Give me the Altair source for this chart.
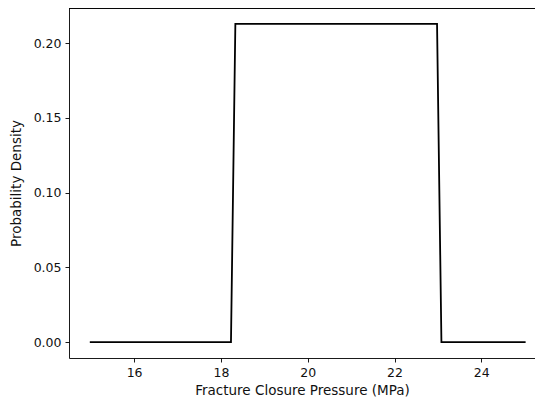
import altair as alt
import pandas as pd

# Key points of the uniform PDF as sampled (x in MPa, density)
pressure = [15.0, 18.232, 18.333, 22.98, 23.081, 25.0]
density = [0.0, 0.0, 0.2128, 0.2128, 0.0, 0.0]
x_ticks = [16, 18, 20, 22, 24]
y_ticks = [0.0, 0.05, 0.10, 0.15, 0.20]

df = pd.DataFrame({"x": pressure, "y": density, "order": list(range(len(pressure)))})

font = "DejaVu Sans"
axis_common = dict(
    labelFont=font, titleFont=font, labelFontSize=12.5, titleFontSize=13.5,
    titleFontWeight="normal", labelColor="#111", titleColor="#111",
    tickColor="black", domainColor="black", tickSize=4, tickWidth=0.9,
    domainWidth=0.9, grid=False, labelPadding=4,
)

W, H = 466, 350

line = alt.Chart(df).mark_line(color="black", strokeWidth=1.8, strokeCap="square").encode(
    x=alt.X("x:Q", scale=alt.Scale(domain=[14.5, 25.237], nice=False, zero=False),
            axis=alt.Axis(values=x_ticks, format="d", title="Fracture Closure Pressure (MPa)",
                          titlePadding=5, **axis_common)),
    y=alt.Y("y:Q", scale=alt.Scale(domain=[-0.0106, 0.2234], nice=False, zero=False),
            axis=alt.Axis(values=y_ticks, format=".2f", title="Probability Density",
                          titlePadding=10, **axis_common)),
    order="order:Q",
)

top_spine = alt.Chart(df).mark_rule(color="black", strokeWidth=0.9).encode(
    x=alt.value(0), x2=alt.value(W), y=alt.value(0)
)

chart = alt.layer(line, top_spine).properties(
    width=W, height=H,
    autosize=alt.AutoSizeParams(type="none"),
    padding={"left": 61, "top": 0, "right": 0, "bottom": 40},
).configure_view(strokeWidth=0)

chart.save("out.html", embed_options={"renderer": "svg", "actions": False})
